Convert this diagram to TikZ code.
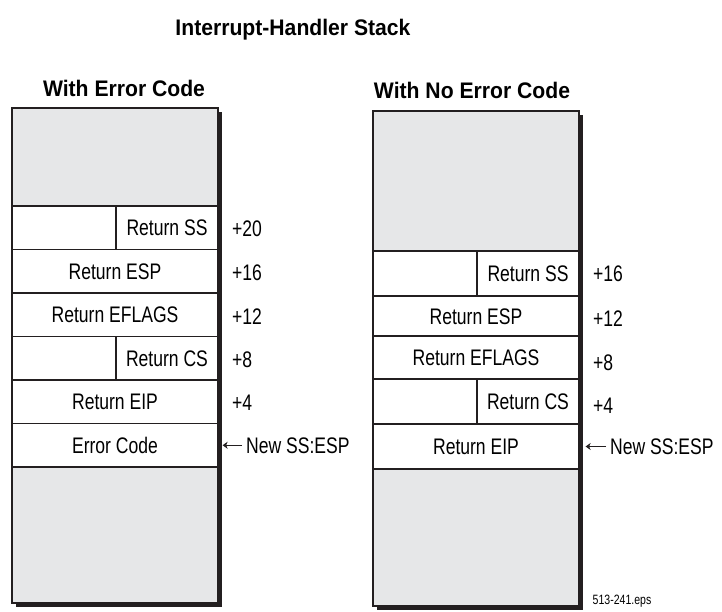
\documentclass[tikz,border=0pt]{standalone}
\usepackage{fontspec}
\setmainfont{Liberation Sans}
\newfontfamily\labfont{Liberation Sans}[FakeStretch=0.78]
\newfontfamily\headfont{Liberation Sans Bold}[FakeStretch=0.94]
\usetikzlibrary{arrows.meta,calc,shadows}
\definecolor{ink}{HTML}{231F20}
\definecolor{stackgray}{HTML}{E6E7E8}
\tikzset{
  cell/.style={draw=ink, line width=1.2pt, fill=white, inner sep=0pt,
    font=\labfont\fontsize{22.5}{25}\selectfont, text height=16.1pt, text depth=0pt},
  stackbox/.style={fill=stackgray, inner sep=0pt, minimum width=206pt, minimum height=495pt,
    drop shadow={shadow xshift=4pt, shadow yshift=-4pt, fill=ink, opacity=1}},
  outer/.style={draw=ink, line width=2.4pt},
  off/.style={inner sep=0pt, font=\labfont\fontsize{22.5}{25}\selectfont, text height=16.1pt, text depth=0pt},
  head/.style={inner sep=0pt, font=\headfont\fontsize{22.5}{25}\selectfont, text height=16.1pt, text depth=0pt},
  arr/.style={draw=ink, line width=1.2pt, -{Stealth[length=5pt,width=7pt,inset=1.5pt]}, shorten <=4pt},
}
\begin{document}
\begin{tikzpicture}[x=1pt,y=-1pt]
\useasboundingbox (0,0) rectangle (722,612);

% titles
\node[head] (title) at (293,27) {Interrupt-Handler Stack};
\node[head] (hl) at (124,88) {With Error Code};
\node[head] (hr) at (472,90) {With No Error Code};

% ---------- left stack ----------
\node[stackbox] (lbox) at (115,355.5) {};
\node[cell, minimum width=104pt, minimum height=43.5pt] (l20a) at (64,227.75) {};
\node[cell, minimum width=102pt, minimum height=43.5pt] (l20) at (167,227.75) {Return SS};
\node[cell, minimum width=206pt, minimum height=43.5pt] (l16) at (115,271.25) {Return ESP};
\node[cell, minimum width=206pt, minimum height=43.5pt] (l12) at (115,314.75) {Return EFLAGS};
\node[cell, minimum width=104pt, minimum height=43.5pt] (l8a) at (64,358.25) {};
\node[cell, minimum width=102pt, minimum height=43.5pt] (l8) at (167,358.25) {Return CS};
\node[cell, minimum width=206pt, minimum height=43.5pt] (l4) at (115,401.75) {Return EIP};
\node[cell, minimum width=206pt, minimum height=43.5pt] (l0) at (115,445.25) {Error Code};
\draw[outer] (lbox.north west) rectangle (lbox.south east);

\node[off, anchor=west] (lo20) at (232,228) {+20};
\node[off, anchor=west] (lo16) at (232,272) {+16};
\node[off, anchor=west] (lo12) at (232,316) {+12};
\node[off, anchor=west] (lo8) at (232,359) {+8};
\node[off, anchor=west] (lo4) at (232,402) {+4};
\node[off, anchor=west] (lnew) at (246,445.25) {New SS:ESP};
\draw[arr] (lnew.west) -- ($(l0.east)+(4,0)$);

% ---------- right stack ----------
\node[stackbox] (rbox) at (476,358.5) {};
\node[cell, minimum width=104pt, minimum height=45pt] (r16a) at (425,273.5) {};
\node[cell, minimum width=102pt, minimum height=45pt] (r16) at (528,273.5) {Return SS};
\node[cell, minimum width=206pt, minimum height=40pt] (r12) at (476,316) {Return ESP};
\node[cell, minimum width=206pt, minimum height=43pt] (r8) at (476,357.5) {Return EFLAGS};
\node[cell, minimum width=104pt, minimum height=45pt] (r4a) at (425,401.5) {};
\node[cell, minimum width=102pt, minimum height=45pt] (r4) at (528,401.5) {Return CS};
\node[cell, minimum width=206pt, minimum height=45pt] (r0) at (476,446.5) {Return EIP};
\draw[outer] (rbox.north west) rectangle (rbox.south east);

\node[off, anchor=west] (ro16) at (593,273) {+16};
\node[off, anchor=west] (ro12) at (593,318) {+12};
\node[off, anchor=west] (ro8) at (593,362) {+8};
\node[off, anchor=west] (ro4) at (593,405) {+4};
\node[off, anchor=west] (rnew) at (610,446.5) {New SS:ESP};
\draw[arr] (rnew.west) -- ($(r0.east)+(6,0)$);

\node[inner sep=0pt, font=\labfont\fontsize{13.5}{15}\selectfont] (fig) at (622,601) {513-241.eps};
\end{tikzpicture}
\end{document}
